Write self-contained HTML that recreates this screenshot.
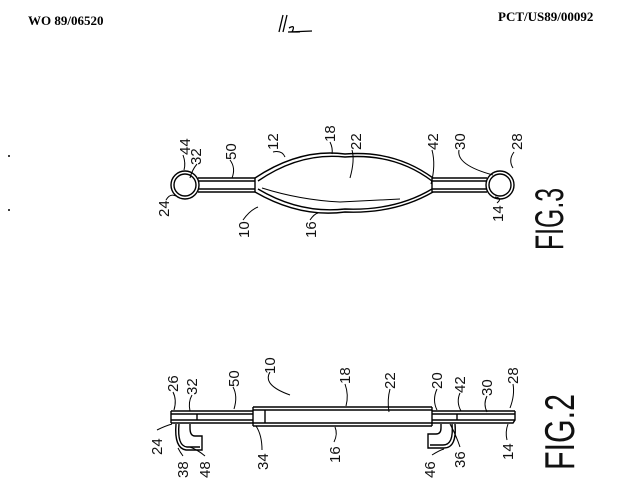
<!DOCTYPE html>
<html><head><meta charset="utf-8"><style>
html,body{margin:0;padding:0;background:#fff;}
svg{display:block}
.l{font-family:"Liberation Sans",sans-serif;font-size:15px;fill:#111}
.h{font-family:"Liberation Serif",serif;font-weight:bold;font-size:13px;fill:#000}
</style></head><body>
<svg width="637" height="498" viewBox="0 0 637 498" xmlns="http://www.w3.org/2000/svg">
<text class="h" x="28" y="25">WO 89/06520</text>
<text class="h" x="498" y="21">PCT/US89/00092</text>
<circle cx="9" cy="156" r="1" fill="#000"/><circle cx="9" cy="210" r="1" fill="#000"/>
<g stroke="#000" fill="none" stroke-width="1.3">
<path d="M283 15 L279 32 M287 15 L283 32"/><path d="M289 28 Q296 24 292 32 L300 32 M288 32 L312 31"/>
</g>
<!-- FIG 3 -->
<g stroke="#000" fill="none" stroke-width="1.4">
<circle cx="185" cy="185" r="14"/><circle cx="185" cy="185" r="11"/>
<circle cx="500" cy="185" r="14"/><circle cx="500" cy="185" r="11"/>
<path d="M198 178 H255 M198 181 H255 M198 189 H255 M198 192 H255 M255 178 V192"/>
<path d="M432 178 H487 M432 181 H487 M432 189 H487 M432 192 H487 M432 178 V192"/>
<path d="M255 178 Q300 148 345 154 Q395 150 433 178"/>
<path d="M258 181 Q300 152 345 157 Q395 153 432 181"/>
<path d="M255 192 Q300 218 345 212 Q395 214 433 192"/>
<path d="M258 189 Q300 214 345 209 Q395 211 432 189"/>
<path d="M262 188 Q300 200 340 202 Q380 200 400 199" stroke-width="1"/>
<path d="M350 178 Q355 160 352 150" stroke-width="1"/>
</g>
<g stroke="#000" fill="none" stroke-width="1">
<path d="M183 155 Q186 163 184 170"/><path d="M197 164 Q192 170 190 178"/>
<path d="M230 160 Q236 168 232 178"/><path d="M273 152 Q282 150 285 157"/>
<path d="M330 142 Q333 148 332 154"/><path d="M432 150 Q436 165 431 184"/>
<path d="M459 150 Q456 165 493 175"/><path d="M514 152 Q508 160 513 168"/>
<path d="M166 200 Q170 193 176 196"/><path d="M243 220 Q250 210 258 207"/>
<path d="M310 220 Q314 214 318 213"/><path d="M497 203 Q503 198 495 197"/>
</g>
<!-- FIG 2 -->
<g stroke="#000" fill="none" stroke-width="1.4">
<path d="M171 411 H253 M171 414 H253 M171 420 H253 M171 423 H253 M171 411 V423"/>
<path d="M253 407 H432 M253 410 H432 M253 423 H432 M253 426 H432 M253 407 V426 M432 407 V426"/>
<path d="M432 411 H515 M432 414 H515 M432 420 H515 M432 423 H513 L515 420 V411"/>
<path d="M197 414 V420 M265 410 V423 M457 414 V420"/>
<path d="M176 424 Q174 448 186 450 H202 V436 H195 Q190 436 190 428 V424"/>
<path d="M179 424 Q177 446 187 447 H200"/>
<path d="M455 424 Q457 448 444 448 H428 V434 H436 Q441 434 441 428 V424"/>
<path d="M452 424 Q454 445 443 445 H430"/>
</g>
<g stroke="#000" fill="none" stroke-width="1">
<path d="M173 392 Q177 400 174 410"/><path d="M192 395 Q188 402 190 411"/>
<path d="M233 387 Q238 396 234 409"/><path d="M270 372 Q262 385 290 395"/>
<path d="M345 384 Q349 395 346 406"/><path d="M390 389 Q387 400 389 412"/>
<path d="M437 389 Q432 400 437 410"/><path d="M460 393 Q456 402 461 411"/>
<path d="M487 396 Q483 404 487 412"/><path d="M513 384 Q515 395 510 408"/>
<path d="M157 430 Q165 426 172 424"/><path d="M262 450 Q262 435 256 426"/>
<path d="M334 442 Q338 434 335 427"/><path d="M460 447 Q456 435 450 424"/>
<path d="M507 440 Q505 432 508 424"/><path d="M432 455 Q440 450 444 449"/>
<path d="M205 456 Q198 450 190 447"/><path d="M183 456 Q180 452 178 448"/>
</g>
<g class="l">
<text transform="translate(190,155) rotate(-90)">44</text>
<text transform="translate(201,165) rotate(-90)">32</text>
<text transform="translate(236,160) rotate(-90)">50</text>
<text transform="translate(278,150) rotate(-90)">12</text>
<text transform="translate(335,142) rotate(-90)">18</text>
<text transform="translate(361,150) rotate(-90)">22</text>
<text transform="translate(438,150) rotate(-90)">42</text>
<text transform="translate(465,150) rotate(-90)">30</text>
<text transform="translate(522,150) rotate(-90)">28</text>
<text transform="translate(169,217) rotate(-90)">24</text>
<text transform="translate(249,238) rotate(-90)">10</text>
<text transform="translate(316,238) rotate(-90)">16</text>
<text transform="translate(503,222) rotate(-90)">14</text>
<text transform="translate(178,392) rotate(-90)">26</text>
<text transform="translate(197,395) rotate(-90)">32</text>
<text transform="translate(239,387) rotate(-90)">50</text>
<text transform="translate(275,374) rotate(-90)">10</text>
<text transform="translate(350,384) rotate(-90)">18</text>
<text transform="translate(395,389) rotate(-90)">22</text>
<text transform="translate(442,389) rotate(-90)">20</text>
<text transform="translate(465,393) rotate(-90)">42</text>
<text transform="translate(492,396) rotate(-90)">30</text>
<text transform="translate(518,384) rotate(-90)">28</text>
<text transform="translate(162,455) rotate(-90)">24</text>
<text transform="translate(188,478) rotate(-90)">38</text>
<text transform="translate(210,478) rotate(-90)">48</text>
<text transform="translate(268,470) rotate(-90)">34</text>
<text transform="translate(340,463) rotate(-90)">16</text>
<text transform="translate(435,478) rotate(-90)">46</text>
<text transform="translate(465,468) rotate(-90)">36</text>
<text transform="translate(513,460) rotate(-90)">14</text>
</g>
<text transform="translate(563,250) rotate(-90)" textLength="62" lengthAdjust="spacingAndGlyphs" style="font-family:'Liberation Sans',sans-serif;font-size:40px;fill:#111">FIG.3</text>
<text transform="translate(574,470) rotate(-90)" textLength="76" lengthAdjust="spacingAndGlyphs" style="font-family:'Liberation Sans',sans-serif;font-size:42px;fill:#111">FIG.2</text>
</svg>
</body></html>
